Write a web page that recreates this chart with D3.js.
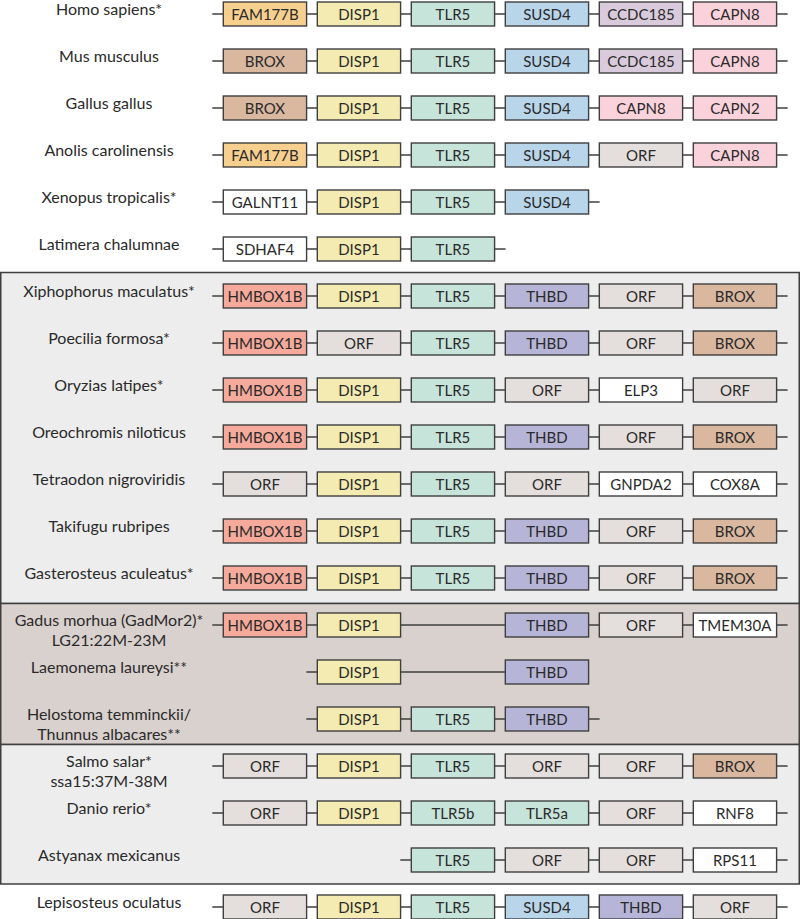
<!DOCTYPE html>
<html>
<head>
<meta charset="utf-8">
<script src="https://cdn.jsdelivr.net/npm/d3@7"></script>
<style>
html,body{margin:0;padding:0;background:#fff;}
svg{display:block;}
</style>
</head>
<body>
<svg id="chart" width="800" height="919"></svg>
<script>
// ---- data ----
const species = [
  ["Homo sapiens*"],
  ["Mus musculus"],
  ["Gallus gallus"],
  ["Anolis carolinensis"],
  ["Xenopus tropicalis*"],
  ["Latimera chalumnae"],
  ["Xiphophorus maculatus*"],
  ["Poecilia formosa*"],
  ["Oryzias latipes*"],
  ["Oreochromis niloticus"],
  ["Tetraodon nigroviridis"],
  ["Takifugu rubripes"],
  ["Gasterosteus aculeatus*"],
  ["Gadus morhua (GadMor2)*", "LG21:22M-23M"],
  ["Laemonema laureysi**"],
  ["Helostoma temminckii/", "Thunnus albacares**"],
  ["Salmo salar*", "ssa15:37M-38M"],
  ["Danio rerio*"],
  ["Astyanax mexicanus"],
  ["Lepisosteus oculatus"]
];
// genes per column slot (null = no gene at that slot)
const genes = [
  ["FAM177B","DISP1","TLR5","SUSD4","CCDC185","CAPN8"],
  ["BROX","DISP1","TLR5","SUSD4","CCDC185","CAPN8"],
  ["BROX","DISP1","TLR5","SUSD4","CAPN8","CAPN2"],
  ["FAM177B","DISP1","TLR5","SUSD4","ORF","CAPN8"],
  ["GALNT11","DISP1","TLR5","SUSD4",null,null],
  ["SDHAF4","DISP1","TLR5",null,null,null],
  ["HMBOX1B","DISP1","TLR5","THBD","ORF","BROX"],
  ["HMBOX1B","ORF","TLR5","THBD","ORF","BROX"],
  ["HMBOX1B","DISP1","TLR5","ORF","ELP3","ORF"],
  ["HMBOX1B","DISP1","TLR5","THBD","ORF","BROX"],
  ["ORF","DISP1","TLR5","ORF","GNPDA2","COX8A"],
  ["HMBOX1B","DISP1","TLR5","THBD","ORF","BROX"],
  ["HMBOX1B","DISP1","TLR5","THBD","ORF","BROX"],
  ["HMBOX1B","DISP1",null,"THBD","ORF","TMEM30A"],
  [null,"DISP1",null,"THBD",null,null],
  [null,"DISP1","TLR5","THBD",null,null],
  ["ORF","DISP1","TLR5","ORF","ORF","BROX"],
  ["ORF","DISP1","TLR5b","TLR5a","ORF","RNF8"],
  [null,null,"TLR5","ORF","ORF","RPS11"],
  ["ORF","DISP1","TLR5","SUSD4","THBD","ORF"]
];
// whether the chromosome line continues past the last gene
const trailingFlank = [1,1,1,1,1,1,1,1,1,1,1,1,1,1,0,1,1,1,1,1];
// grouped blocks of rows: [first row, last row, group kind]
const groups = [
  [6, 12, "neoteleostei"],
  [13, 15, "gadiformes"],
  [16, 18, "other teleosts"]
];
const geneFamilies = ["FAM177B","BROX","DISP1","TLR5","TLR5a","TLR5b","SUSD4","CCDC185","CAPN8","CAPN2","ORF","HMBOX1B","THBD"];

// ---- styles ----
const geneColor = {
  FAM177B:"#f7cf8f", BROX:"#d9b89f", DISP1:"#f3ebb1", TLR5:"#c6e4da", TLR5a:"#c6e4da", TLR5b:"#c6e4da",
  SUSD4:"#b8d5ea", CCDC185:"#dacbdc", CAPN8:"#fad2db", CAPN2:"#fad2db", ORF:"#e4dfdc",
  HMBOX1B:"#f5aa9b", THBD:"#b6b5d8"
};
const groupColor = {"neoteleostei":"#ededed","gadiformes":"#d9d1ce","other teleosts":"#ededed"};
const ink = "#3f3f3f";
const FONT = "Lato, 'Open Sans', sans-serif";

const svg = d3.select("#chart");
const W = 800;

const rowIdx = d3.range(species.length);
const y = d3.scalePoint().domain(rowIdx).range([14, 907]);
const x = d3.scaleBand().domain(d3.range(6)).range([223.3, 776.6]).paddingInner(0.114);
const boxH = 24;
const flank = 11;

// panels
const boundary = (a, b, off) => (y(a) + y(b)) / 2 + off;
groups.forEach(([from, to, kind], gi) => {
  const top = from > 0 ? boundary(from - 1, from, gi === 0 ? 0 : 2) : 0;
  const bot = to < species.length - 1 ? boundary(to, to + 1, gi === groups.length - 1 ? 0.5 : 2) : 919;
  svg.append("rect")
    .attr("x", 0.75).attr("y", top)
    .attr("width", W - 1.5).attr("height", bot - top)
    .attr("fill", groupColor[kind])
    .attr("stroke", ink).attr("stroke-width", 1.5);
});

// rows
const rows = svg.selectAll("g.row").data(rowIdx).join("g")
  .attr("class", "row")
  .attr("transform", i => `translate(0,${y(i)})`);

// chromosome lines
rows.append("line")
  .attr("x1", i => {
    const first = genes[i].findIndex(g => g !== null);
    return x(first) - flank;
  })
  .attr("x2", i => {
    let last = -1;
    genes[i].forEach((g, k) => { if (g !== null) last = k; });
    return x(last) + x.bandwidth() + (trailingFlank[i] ? flank : 0);
  })
  .attr("y1", 0).attr("y2", 0)
  .attr("stroke", ink).attr("stroke-width", 1.4);

// gene boxes
const cells = rows.selectAll("g.gene")
  .data(i => genes[i].map((g, k) => ({g, k})).filter(d => d.g !== null))
  .join("g").attr("class", "gene")
  .attr("transform", d => `translate(${x(d.k)},0)`);

cells.append("rect")
  .attr("x", 0).attr("y", -boxH / 2)
  .attr("width", x.bandwidth()).attr("height", boxH)
  .attr("fill", d => geneColor[d.g] || "#ffffff")
  .attr("stroke", ink).attr("stroke-width", 1.4);

cells.append("text")
  .attr("x", x.bandwidth() / 2).attr("y", 5.5)
  .attr("text-anchor", "middle")
  .attr("font-family", FONT).attr("font-size", 15)
  .attr("fill", "#2a2a2a")
  .text(d => d.g);

// species labels
rows.append("text")
  .attr("text-anchor", "middle")
  .attr("font-family", FONT).attr("font-size", 16)
  .attr("fill", "#2a2a2a")
  .selectAll("tspan")
  .data(i => species[i])
  .join("tspan")
  .attr("x", 109)
  .attr("y", (d, j) => 1 + j * 20)
  .text(d => d);
</script>
</body>
</html>
